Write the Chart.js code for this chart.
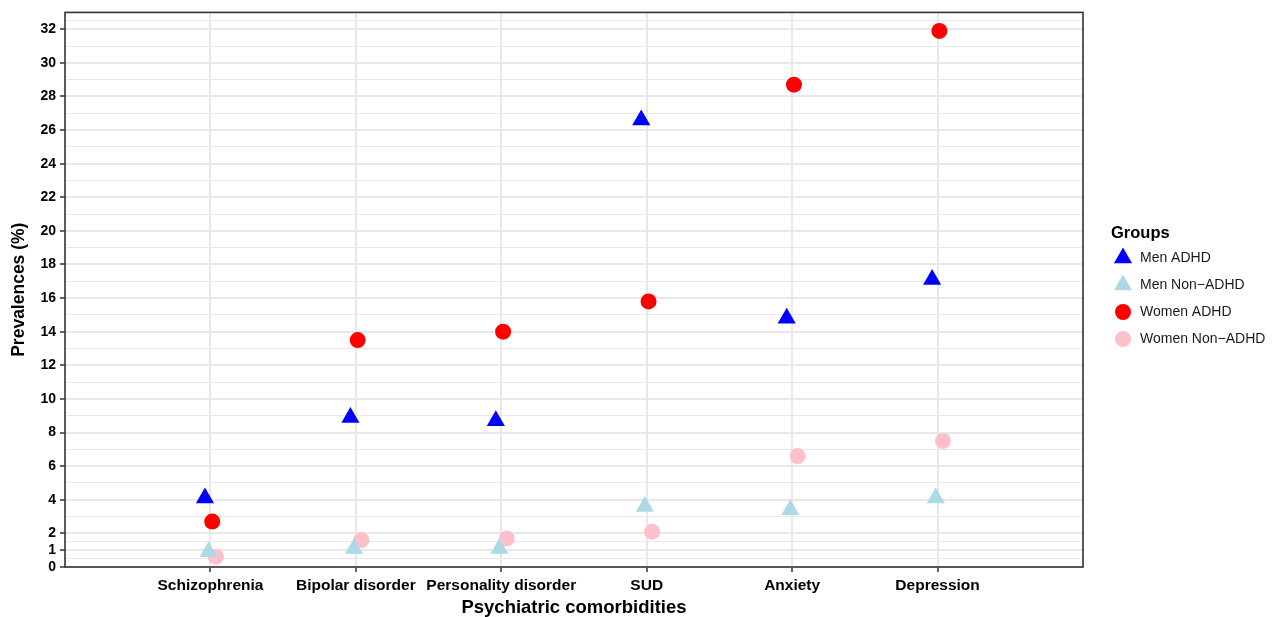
<!DOCTYPE html>
<html>
<head>
<meta charset="utf-8">
<script src="https://cdn.jsdelivr.net/npm/chart.js@4/dist/chart.umd.min.js"></script>
<style>
    body { margin: 0; background: #fff; }
    #wrap { width: 1275px; height: 617px; position: relative; }
</style>
</head>
<body>
<div id="wrap"><canvas id="comorbChart"></canvas></div>
<script>
// Categories on the x axis
const categories = ['Schizophrenia', 'Bipolar disorder', 'Personality disorder', 'SUD', 'Anxiety', 'Depression'];

// Prevalences (%) per group, same order as categories
const menADHD = [4.1, 8.9, 8.7, 26.6, 14.8, 17.1];
const menNonADHD = [0.9, 1.1, 1.1, 3.6, 3.4, 4.1];
const womenADHD = [2.7, 13.5, 14.0, 15.8, 28.7, 31.9];
const womenNonADHD = [0.6, 1.6, 1.7, 2.1, 6.6, 7.5];

// Y axis tick labels
const yTicks = [0, 1, 2, 4, 6, 8, 10, 12, 14, 16, 18, 20, 22, 24, 26, 28, 30, 32];

const groups = [
    { label: 'Men ADHD', data: menADHD, color: '#0000ff', shape: 'triangle' },
    { label: 'Men Non\u2212ADHD', data: menNonADHD, color: '#add8e6', shape: 'triangle' },
    { label: 'Women ADHD', data: womenADHD, color: '#ff0000', shape: 'circle' },
    { label: 'Women Non\u2212ADHD', data: womenNonADHD, color: '#ffc0cb', shape: 'circle' }
];

// Minor gridlines sit halfway between the major ones (plus one above the last)
const yMinor = [];
for (let i = 1; i < yTicks.length; i++) {
    yMinor.push((yTicks[i - 1] + yTicks[i]) / 2);
}
yMinor.push(yTicks[yTicks.length - 1] + (yTicks[1] - yTicks[0]) / 2);

const isMajor = v => yTicks.includes(v);

// dodge width 0.1 shared by the four groups
const dodge = 0.1;
const datasets = groups.map((g, gi) => {
    const offset = (gi - (groups.length - 1) / 2) * dodge / groups.length;
    return {
        label: g.label,
        data: g.data.map((v, i) => ({ x: i + 1 + offset, y: v })),
        pointStyle: g.shape,
        pointRadius: g.shape === 'triangle' ? 10.5 : 8,
        pointHoverRadius: g.shape === 'triangle' ? 10.5 : 8,
        backgroundColor: g.color,
        borderColor: g.color,
        pointBorderWidth: 0,
        showLine: false
    };
});

const fontFamily = '"Liberation Sans", Arial, Helvetica, sans-serif';

// Panel border and the legend on the right
const panelPlugin = {
    id: 'panel',
    afterDraw(chart) {
        const { ctx, chartArea } = chart;
        ctx.save();
        ctx.strokeStyle = '#333333';
        ctx.lineWidth = 1.6;
        ctx.strokeRect(chartArea.left, chartArea.top,
            chartArea.right - chartArea.left, chartArea.bottom - chartArea.top);

        // legend
        ctx.fillStyle = '#000';
        ctx.font = 'bold 16.5px ' + fontFamily;
        ctx.textBaseline = 'middle';
        ctx.textAlign = 'left';
        ctx.fillText('Groups', 1111, 233);

        groups.forEach((g, i) => {
            const cy = 258 + i * 27;
            const cx = 1123;
            ctx.fillStyle = g.color;
            ctx.beginPath();
            if (g.shape === 'triangle') {
                const r = 10.5;
                ctx.moveTo(cx, cy - r);
                ctx.lineTo(cx + r * Math.sqrt(3) / 2, cy + r / 2);
                ctx.lineTo(cx - r * Math.sqrt(3) / 2, cy + r / 2);
                ctx.closePath();
            } else {
                ctx.arc(cx, cy, 8, 0, Math.PI * 2);
            }
            ctx.fill();
            ctx.fillStyle = '#1a1a1a';
            ctx.font = '14px ' + fontFamily;
            ctx.fillText(g.label, 1140, cy);
        });
        ctx.restore();
    }
};

new Chart(document.getElementById('comorbChart').getContext('2d'), {
    type: 'scatter',
    data: { datasets: datasets },
    options: {
        responsive: true,
        maintainAspectRatio: false,
        animation: false,
        layout: { padding: { top: 12, right: 192, left: 0, bottom: 0 } },
        plugins: {
            legend: { display: false },
            tooltip: { enabled: false }
        },
        scales: {
            x: {
                type: 'linear',
                min: 0,
                max: categories.length + 1,
                afterBuildTicks: scale => {
                    scale.ticks = categories.map((c, i) => ({ value: i + 1 }));
                },
                afterFit: scale => { scale.height = 50; },
                ticks: {
                    autoSkip: false,
                    maxRotation: 0,
                    padding: 4,
                    color: '#000',
                    font: { family: fontFamily, size: 15.5, weight: 'bold' },
                    callback: value => categories[Math.round(value) - 1]
                },
                grid: {
                    color: '#e8e8e8',
                    lineWidth: 2,
                    tickLength: 5,
                    tickColor: '#333333',
                    tickWidth: 1.5
                },
                border: { display: false },
                title: {
                    display: true,
                    text: 'Psychiatric comorbidities',
                    color: '#000',
                    padding: { top: 0, bottom: 0 },
                    font: { family: fontFamily, size: 18.5, weight: 'bold', lineHeight: 1.0 }
                }
            },
            y: {
                type: 'linear',
                min: 0,
                max: 33,
                afterBuildTicks: scale => {
                    scale.ticks = yTicks.concat(yMinor).sort((a, b) => a - b).map(v => ({ value: v }));
                },
                afterFit: scale => { scale.width = 65; },
                ticks: {
                    autoSkip: false,
                    padding: 4,
                    color: '#000',
                    font: { family: fontFamily, size: 14, weight: 'bold' },
                    callback: value => isMajor(value) ? String(value) : ''
                },
                grid: {
                    color: '#e8e8e8',
                    lineWidth: ctx => (ctx.tick && isMajor(ctx.tick.value)) ? 2 : 1,
                    tickLength: 5,
                    tickColor: ctx => (ctx.tick && isMajor(ctx.tick.value)) ? '#333333' : 'rgba(0,0,0,0)',
                    tickWidth: 1.5
                },
                border: { display: false },
                title: {
                    display: true,
                    text: 'Prevalences (%)',
                    color: '#000',
                    padding: { top: 9, bottom: 0 },
                    font: { family: fontFamily, size: 17.5, weight: 'bold' }
                }
            }
        }
    },
    plugins: [panelPlugin]
});
</script>
</body>
</html>
